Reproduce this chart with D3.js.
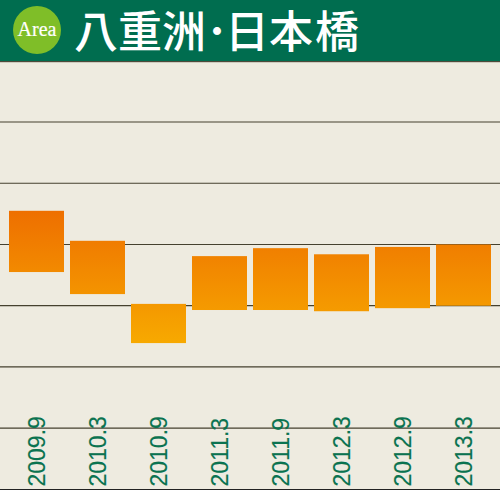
<!DOCTYPE html>
<html><head><meta charset="utf-8">
<script src="https://cdnjs.cloudflare.com/ajax/libs/d3/7.8.5/d3.min.js"></script>
<style>html,body{margin:0;padding:0;background:#eeebe0;overflow:hidden}svg{display:block}</style>
</head><body><div id="c"></div>
<script>
const categories=["2009.9","2010.3","2010.9","2011.3","2011.9","2012.3","2012.9","2013.3"];
const highs=[3.55,3.06,2.03,2.81,2.94,2.84,2.96,3.0];
const lows=[2.55,2.19,1.39,1.93,1.93,1.91,1.96,2.0];
const gridValues=[0,1,2,3,4,5];
const titleParts=["八重洲･","日本","橋"];
const badge="Area";

const W=500,H=490;
const svg=d3.select("#c").append("svg").attr("width",W).attr("height",H);
svg.append("rect").attr("width",W).attr("height",H).attr("fill","#eeebe0");
const x=d3.scaleBand().domain(categories).range([6,494]).paddingInner(6/61).paddingOuter(3/61);
const y=d3.scaleLinear().domain([0,5]).range([428.2,122.0]);

const grad=svg.append("defs").append("linearGradient").attr("id","g")
 .attr("gradientUnits","userSpaceOnUse").attr("x1",0).attr("x2",0)
 .attr("y1",y(d3.max(highs))).attr("y2",y(d3.min(lows)));
grad.append("stop").attr("offset",0).attr("stop-color","#ee6f00");
grad.append("stop").attr("offset",1).attr("stop-color","#f7a900");

svg.selectAll("line.grid").data(gridValues).join("line").attr("class","grid")
 .attr("x1",0).attr("x2",W).attr("y1",d=>y(d)).attr("y2",d=>y(d))
 .attr("stroke","#45412f").attr("stroke-width",1.2);
svg.append("rect").attr("y",489).attr("width",W).attr("height",1).attr("fill","#222");

svg.selectAll("rect.bar").data(categories).join("rect").attr("class","bar")
 .attr("x",d=>x(d)).attr("width",x.bandwidth())
 .attr("y",(d,i)=>y(highs[i])).attr("height",(d,i)=>y(lows[i])-y(highs[i]))
 .attr("fill","url(#g)");

svg.selectAll("text.cat").data(categories).join("text").attr("class","cat")
 .attr("transform",d=>`translate(${x(d)+x.bandwidth()/2+8},486.5) rotate(-90)`)
 .attr("font-family","Liberation Sans, Arial, sans-serif").attr("font-size",23)
 .attr("fill","#0b7350").attr("stroke","#0b7350").attr("stroke-width",.15).text(d=>d);

svg.append("rect").attr("width",W).attr("height",61).attr("fill","#006d4f");
svg.append("rect").attr("y",61).attr("width",W).attr("height",1.2).attr("fill","#4d4a3a");
svg.append("circle").attr("cx",37).attr("cy",30).attr("r",24).attr("fill","#7fbe28");
svg.append("text").attr("x",37).attr("y",36).attr("text-anchor","middle")
 .attr("font-family","Liberation Serif, serif").attr("font-size",20).attr("fill","#fff")
 .attr("stroke","#fff").attr("stroke-width",.2).text(badge);
const t=svg.append("text").attr("x",74).attr("y",48)
 .attr("font-family","Noto Sans CJK JP, sans-serif").attr("font-size",44).attr("font-weight",500)
 .attr("fill","#fff");
const titleDx=[0,-3,2];
t.selectAll("tspan").data(titleParts).join("tspan").attr("dx",(d,i)=>titleDx[i]).text(d=>d);
</script></body></html>
